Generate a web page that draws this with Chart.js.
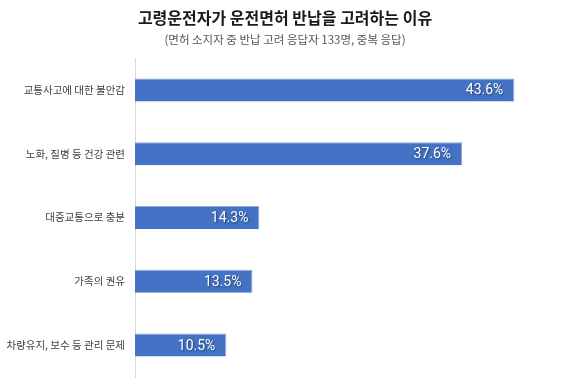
<!DOCTYPE html>
<html>
<head>
<meta charset="utf-8">
<script src="https://cdn.jsdelivr.net/npm/chart.js@4"></script>
<style>
  html, body { margin: 0; padding: 0; background: #fff; }
  #wrap { width: 580px; height: 387px; }
</style>
</head>
<body>
<div id="wrap"><canvas id="myChart"></canvas></div>
<script>
// data
const reasons = ['교통사고에 대한 불안감', '노화, 질병 등 건강 관련', '대중교통으로 충분', '가족의 권유', '차량유지, 보수 등 관리 문제']
const shares = [43.6, 37.6, 14.3, 13.5, 10.5]
const titleText = '고령운전자가 운전면허 반납을 고려하는 이유'
const subtitleText = '(면허 소지자 중 반납 고려 응답자 133명, 중복 응답)'

const fontKr = "'Noto Sans CJK KR', 'Noto Sans', sans-serif"

// 막대 끝에 값 표시
const valueLabels = {
    id: 'valueLabels',
    afterDatasetsDraw(chart) {
        const ctx = chart.ctx
        const meta = chart.getDatasetMeta(0)
        ctx.save()
        ctx.font = "14px Roboto, 'Noto Sans', sans-serif"
        ctx.fillStyle = '#ffffff'
        ctx.textAlign = 'right'
        ctx.textBaseline = 'middle'
        ctx.shadowColor = 'rgba(0,0,0,0.45)'
        ctx.shadowBlur = 2
        ctx.shadowOffsetX = 1
        ctx.shadowOffsetY = 1
        meta.data.forEach((bar, i) => {
            ctx.fillText(shares[i].toFixed(1) + '%', bar.x - 11, bar.y + 1)
        })
        ctx.restore()
    }
}

const data = {
    labels: reasons,
    datasets: [{
        data: shares,
        backgroundColor: '#4472C4',
        borderColor: '#8EA9DB',
        borderWidth: { top: 1, right: 1, bottom: 0, left: 0 },
        barPercentage: 0.36,
        categoryPercentage: 1
    }]
}

const config = {
    type: 'bar',
    data: data,
    options: {
        indexAxis: 'y',
        responsive: true,
        maintainAspectRatio: false,
        animation: false,
        layout: { padding: { top: 0, right: 10, bottom: 10, left: 0 } },
        plugins: {
            legend: { display: false },
            tooltip: { enabled: false },
            title: {
                display: true,
                text: titleText,
                color: '#1a1a1a',
                font: { family: fontKr, size: 16, weight: 'bold' },
                padding: { top: 8, bottom: 6 }
            },
            subtitle: {
                display: true,
                text: subtitleText,
                color: '#555555',
                font: { family: fontKr, size: 11.5 },
                padding: { top: 0, bottom: 11 }
            }
        },
        scales: {
            x: {
                display: false,
                min: 0,
                max: 50
            },
            y: {
                grid: { display: false },
                border: { display: true, color: '#d9d9d9', width: 1 },
                ticks: {
                    color: '#404040',
                    padding: 2,
                    font: { family: fontKr, size: 10.5 }
                },
                afterFit(scale) { scale.width = 135 }
            }
        }
    },
    plugins: [valueLabels]
}

const myChart = new Chart(document.getElementById('myChart'), config)
</script>
</body>
</html>
